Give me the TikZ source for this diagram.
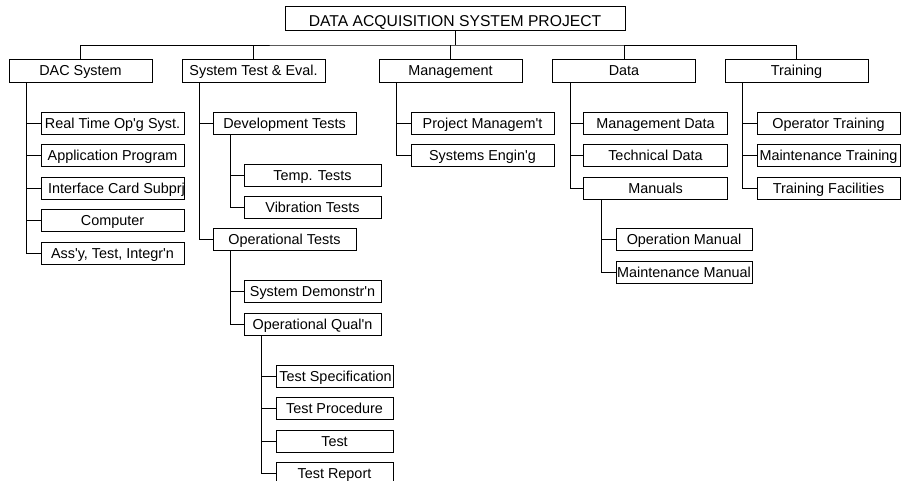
\documentclass[tikz,border=0pt]{standalone}
\usepackage{fontspec}
\setmainfont{Liberation Sans}
\newcommand\tx[1]{\makebox[0pt]{#1}}
\newcommand\ap{\textquotesingle}
\begin{document}
\begin{tikzpicture}[x=1pt,y=-1pt,
  bx/.style={draw,line width=0.9pt,inner sep=0pt,minimum height=22pt,text height=10.3pt,text depth=0pt,font=\fontsize{14.4}{16}\selectfont},
  lv/.style={minimum height=23pt},
  w/.style={minimum width=#1pt},
  ln/.style={line width=0.9pt}]
\useasboundingbox (0,0) rectangle (901,481);
% title
\node[bx,w=340,minimum height=24pt,text height=18pt,font=\fontsize{15.7}{18}\selectfont] (top) at (455,18) {\tx{DATA ACQUISITION SYSTEM PROJECT}};
% level 1
\node[bx,lv,w=143] (dac)   at (80.5,70.5)  {\tx{DAC System}};
\node[bx,lv,w=143] (st)    at (253.5,70.5) {\tx{System Test \& Eval.}};
\node[bx,lv,w=143] (mgmt)  at (450.5,70.5) {\tx{Management}};
\node[bx,lv,w=143] (data)  at (624,70.5)   {\tx{Data}};
\node[bx,lv,w=143] (train) at (796.5,70.5) {\tx{Training}};
% DAC children
\node[bx,w=143] (rt)  at (112.5,123) {\tx{Real Time Op\ap g Syst.}};
\node[bx,w=143] (ap)  at (112.5,155) {\tx{Application Program}};
\node[bx,w=143] (ic)  at (112.5,188) {\tx{\hspace{8pt}Interface Card Subprj}};
\node[bx,w=143] (cp)  at (112.5,220) {\tx{Computer}};
\node[bx,w=143] (as)  at (112.5,253) {\tx{Ass\ap y, Test, Integr\ap n}};
% System test children
\node[bx,w=143] (dev) at (284.5,123) {\tx{Development Tests}};
\node[bx,w=143] (opt) at (284.5,239.5) {\tx{Operational Tests}};
\node[bx,w=137] (tmp) at (312.5,175) {\tx{Temp. Tests}};
\node[bx,w=137] (vib) at (312.5,207) {\tx{Vibration Tests}};
\node[bx,w=137] (sd)  at (312.5,291.5) {\tx{System Demonstr\ap n}};
\node[bx,w=137] (oq)  at (312.5,324) {\tx{Operational Qual\ap n}};
\node[bx,w=117] (ts)  at (334.5,376) {\tx{\hspace{2pt}Test Specification}};
\node[bx,w=117] (tp)  at (334.5,408) {\tx{Test Procedure}};
\node[bx,w=117] (tt)  at (334.5,441) {\tx{Test}};
\node[bx,w=117] (tr)  at (334.5,473) {\tx{Test Report}};
% Management children
\node[bx,w=143] (pm)  at (482.5,123) {\tx{Project Managem\ap t}};
\node[bx,w=143] (se)  at (482.5,155) {\tx{Systems Engin\ap g}};
% Data children
\node[bx,w=144] (md)  at (655.5,123) {\tx{Management Data}};
\node[bx,w=144] (td)  at (655.5,155) {\tx{Technical Data}};
\node[bx,w=144] (mn)  at (655.5,188) {\tx{Manuals}};
\node[bx,w=136] (om)  at (684,239.5) {\tx{Operation Manual}};
\node[bx,w=136] (mm)  at (684,272) {\tx{Maintenance Manual}};
% Training children
\node[bx,w=143] (ot)  at (828.5,123) {\tx{Operator Training}};
\node[bx,w=143] (mt)  at (828.5,155) {\tx{Maintenance Training}};
\node[bx,w=143] (tf)  at (828.5,188) {\tx{Training Facilities}};
% bus
\coordinate (bus) at (455,45);
\draw[ln] (top.south) -- (bus);
\draw[ln] (dac.north) |- (bus) -| (train.north);
\foreach \n in {st,mgmt,data} \draw[ln] (\n.north) -- (\n.north |- bus);
% trunks
\foreach \p/\c in {dac/rt,dac/ap,dac/ic,dac/cp,dac/as,
                   st/dev,st/opt,dev/tmp,dev/vib,opt/sd,opt/oq,
                   oq/ts,oq/tp,oq/tt,oq/tr,
                   mgmt/pm,mgmt/se,
                   data/md,data/td,data/mn,mn/om,mn/mm,
                   train/ot,train/mt,train/tf}
  \draw[ln] ([xshift=18pt]\p.south west) |- (\c.west);
\end{tikzpicture}
\end{document}
